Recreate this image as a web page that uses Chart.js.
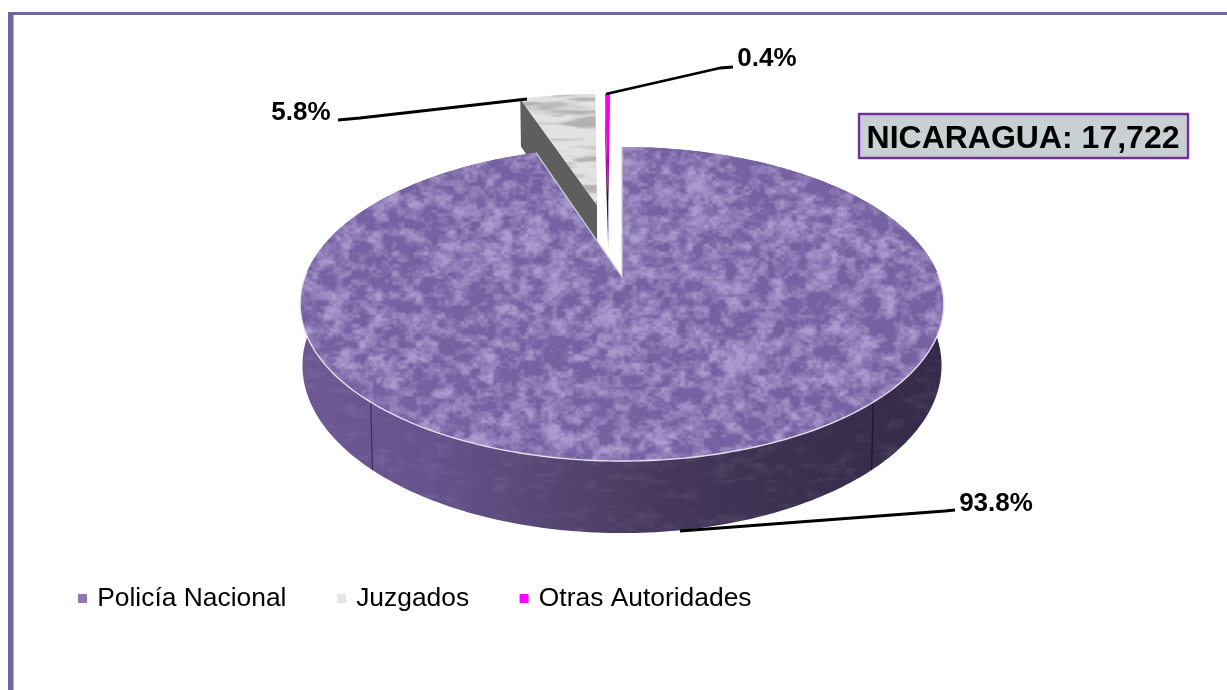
<!DOCTYPE html>
<html lang="es">
<head>
<meta charset="utf-8">
<title>Nicaragua</title>
<script src="https://cdn.jsdelivr.net/npm/chart.js@4/dist/chart.umd.js"></script>
<style>
html,body{margin:0;padding:0;background:#fff;overflow:hidden}
#wrap{position:absolute;left:0;top:0;width:1227px;height:690px}
canvas{display:block}
</style>
</head>
<body>
<div id="wrap"><canvas id="c" width="1227" height="690"></canvas></div>
<script>
// ---- data ----
const categories = ['Policía Nacional', 'Juzgados', 'Otras Autoridades'];
const percentages = [93.8, 5.8, 0.4];
const legendColors = ['#8f78b0', '#e4e5ea', '#ff00ff'];
const totalLabel = 'NICARAGUA: 17,722';

// ---- view of the 3D pie, as ratios of the radius Chart.js computes ----
const REF_R = 254.7;
const VIEW = { rx: 317 / REF_R, ry: 152.4 / REF_R, persp: 0.172, depth: 59.6 / REF_R, bottomShrink: 0.993 };
// slice displacement on the pie's plane (unit = radius)
const EXPLODE = [[0, 0], [-0.086, -0.514], [-0.047, -0.513]];

// label layout: text centre, then leader polyline
const LABELS = [
  { x: 996, y: 504, leader: [[680, 531], [945, 511], [955, 510]] },
  { x: 301, y: 113, leader: [[338, 120], [360, 118], [527, 99]] },
  { x: 767, y: 59, leader: [[606, 94], [720, 68], [733, 67]] }
];
const FONT = '"Liberation Sans", Arial, sans-serif';

// ---- textures (appearance only) ----
function seeded(seed) {
  let s = seed >>> 0;
  return () => { s = (s + 0x6D2B79F5) >>> 0; let t = s; t = Math.imul(t ^ (t >>> 15), t | 1); t ^= t + Math.imul(t ^ (t >>> 7), t | 61); return ((t ^ (t >>> 14)) >>> 0) / 4294967296; };
}
function noiseLayer(w, h, cx, cy, rnd) {
  const gw = Math.ceil(w / cx) + 2, gh = Math.ceil(h / cy) + 2, g = new Float32Array(gw * gh);
  for (let i = 0; i < g.length; i++) g[i] = rnd();
  const out = new Float32Array(w * h), sm = t => t * t * (3 - 2 * t);
  for (let y = 0; y < h; y++) {
    const fy = y / cy, iy = Math.floor(fy), ty = sm(fy - iy);
    for (let x = 0; x < w; x++) {
      const fx = x / cx, ix = Math.floor(fx), tx = sm(fx - ix);
      const a = g[iy * gw + ix], b = g[iy * gw + ix + 1], c = g[(iy + 1) * gw + ix], d = g[(iy + 1) * gw + ix + 1];
      out[y * w + x] = a + (b - a) * tx + (c - a) * ty + (a - b - c + d) * tx * ty;
    }
  }
  return out;
}
function fbm(w, h, layers, seed) {
  const rnd = seeded(seed), out = new Float32Array(w * h);
  let total = 0;
  for (const [cx, cy, amp] of layers) {
    const l = noiseLayer(w, h, cx, cy, rnd);
    for (let i = 0; i < out.length; i++) out[i] += l[i] * amp;
    total += amp;
  }
  for (let i = 0; i < out.length; i++) out[i] /= total;
  return out;
}
function texture(w, h, n, paint) {
  const c = document.createElement('canvas'); c.width = w; c.height = h;
  const x = c.getContext('2d'), im = x.createImageData(w, h);
  for (let i = 0; i < n.length; i++) {
    const rgba = paint(n[i]);
    im.data[i * 4] = rgba[0]; im.data[i * 4 + 1] = rgba[1]; im.data[i * 4 + 2] = rgba[2]; im.data[i * 4 + 3] = rgba[3];
  }
  x.putImageData(im, 0, 0);
  return c;
}
const clamp01 = t => Math.max(0, Math.min(1, t));
const ss = (a, b, v) => { const t = clamp01((v - a) / (b - a)); return t * t * (3 - 2 * t); };
const topTex = texture(700, 400, fbm(700, 400, [[34, 26, .35], [16, 12, .7], [8, 7, .85], [4, 3, .55], [2, 2, .25]], 11), n => {
  const t = clamp01((n - .38) / .34);
  return [118 + 52 * t, 98 + 56 * t, 163 + 42 * t, 255];
});
const grayTex = texture(200, 200, fbm(200, 200, [[70, 9, .7], [35, 4, .6], [12, 2, .3]], 23), n => {
  const t = ss(.3, .6, n), v = 178 + 48 * t;
  return [v, v, v + 2, 255];
});
const sideTex = texture(700, 120, fbm(700, 120, [[24, 8, .6], [10, 5, .6], [3, 2, .3]], 37), n => {
  const t = clamp01((n - .5) * 3);
  return t > 0 ? [255, 255, 255, 18 * t] : [0, 0, 0, -18 * t];
});

// ---- Chart.js arcs are painted on the projected plane ----
// The view slightly narrows the open wedge, as the original 3D renderer does.
function viewAngle(deg) {
  const cut = 360 * percentages[0] / 100, shown = 341.6;
  return deg <= cut ? deg * shown / cut : shown + (deg - cut) * (360 - shown) / (360 - cut);
}
function projector(arc) {
  const R = arc.outerRadius;
  return (u, v, lower) => {
    const w = 1 - VIEW.persp * v;
    return [arc.x + R * VIEW.rx * u / w * (lower ? VIEW.bottomShrink : 1),
            arc.y + R * VIEW.ry * v / w + (lower ? R * VIEW.depth / w : 0)];
  };
}
function rimPoints(arc, idx, from, to, lower) {
  const P = projector(arc), [ex, ey] = EXPLODE[idx], pts = [];
  const n = Math.max(2, Math.ceil(Math.abs(to - from)));
  for (let i = 0; i <= n; i++) {
    const a = (from + (to - from) * i / n) * Math.PI / 180;
    pts.push(P(ex + Math.sin(a), ey - Math.cos(a), lower));
  }
  return pts;
}
function polyPath(ctx, pts) {
  ctx.beginPath();
  pts.forEach((p, i) => i ? ctx.lineTo(p[0], p[1]) : ctx.moveTo(p[0], p[1]));
  ctx.closePath();
}
function sliceRange(arc) {
  const toDeg = r => (r + Math.PI / 2) * 180 / Math.PI;
  return [viewAngle(toDeg(arc.startAngle)), viewAngle(toDeg(arc.endAngle))];
}
function paintMain(ctx, arc) {
  const [a0, a1] = sliceRange(arc), P = projector(arc), R = arc.outerRadius;
  // outer wall
  const wallTop = rimPoints(arc, 0, 88, 272, false), wallBottom = rimPoints(arc, 0, 272, 88, true);
  const wall = wallTop.concat(wallBottom);
  const g = ctx.createLinearGradient(arc.x - R * VIEW.rx, 0, arc.x + R * VIEW.rx, 0);
  g.addColorStop(0, '#6d5893'); g.addColorStop(.2, '#66528c'); g.addColorStop(.37, '#574775');
  g.addColorStop(.56, '#45385c'); g.addColorStop(.77, '#3b3050'); g.addColorStop(1, '#352a49');
  polyPath(ctx, wall); ctx.fillStyle = g; ctx.fill();
  ctx.save(); ctx.clip();
  ctx.fillStyle = ctx.createPattern(sideTex, 'repeat');
  ctx.fillRect(arc.x - 400, arc.y, 800, 300);
  ctx.restore();
  // seams on the wall
  [136, 224].forEach((deg, i) => {
    const a = deg * Math.PI / 180, t = P(Math.sin(a), -Math.cos(a), false), b = P(Math.sin(a), -Math.cos(a), true);
    ctx.strokeStyle = i === 0 ? '#1d1530' : '#3a2c5c'; ctx.lineWidth = 1.2;
    ctx.beginPath(); ctx.moveTo(t[0], t[1]); ctx.lineTo(b[0], b[1]); ctx.stroke();
  });
  // top face
  const top = [P(0, 0, false)].concat(rimPoints(arc, 0, a0, a1, false));
  ctx.save();
  polyPath(ctx, top); ctx.fillStyle = '#7f69a8'; ctx.fill(); ctx.clip();
  ctx.translate(arc.x - 340, arc.y - 150);
  ctx.fillStyle = ctx.createPattern(topTex, 'repeat');
  ctx.fillRect(-10, -10, 720, 420);
  ctx.restore();
  // pale rim along the front
  const rim = rimPoints(arc, 0, 88, 272, false);
  ctx.beginPath(); rim.forEach((p, i) => i ? ctx.lineTo(p[0], p[1]) : ctx.moveTo(p[0], p[1]));
  ctx.strokeStyle = '#e6e0ee'; ctx.lineWidth = 1.4; ctx.stroke();
  // pale cut faces at the wedge
  const ap = P(0, 0, false), left = top[top.length - 1], right = top[1];
  ctx.strokeStyle = '#cfcbd6'; ctx.lineWidth = 1.3;
  ctx.beginPath(); ctx.moveTo(left[0], left[1]); ctx.lineTo(ap[0], ap[1]); ctx.lineTo(right[0], right[1]); ctx.stroke();
}
function paintGray(ctx, arc) {
  const [a0, a1] = sliceRange(arc), P = projector(arc), [ex, ey] = EXPLODE[1];
  const ap = P(ex, ey, false), apLow = P(ex, ey, true);
  const tip = rimPoints(arc, 1, a0, a0 + .01, false)[0], tipLow = rimPoints(arc, 1, a0, a0 + .01, true)[0];
  polyPath(ctx, [tip, ap, apLow, tipLow]); ctx.fillStyle = '#5e5e5e'; ctx.fill();
  const top = [ap].concat(rimPoints(arc, 1, a0, a1, false));
  ctx.save();
  polyPath(ctx, top); ctx.fillStyle = '#dcdcdf'; ctx.fill(); ctx.clip();
  ctx.translate(tip[0], tip[1] - 20);
  ctx.fillStyle = ctx.createPattern(grayTex, 'repeat');
  ctx.fillRect(-5, -5, 210, 210);
  ctx.restore();
}
function paintPink(ctx, arc) {
  const [a0, a1] = sliceRange(arc), P = projector(arc), [ex, ey] = EXPLODE[2];
  const ap = P(ex, ey, false), apLow = P(ex, ey, true);
  const rim = rimPoints(arc, 2, a0, a1, false), tipLow = rimPoints(arc, 2, a0, a0 + .01, true)[0];
  const g = ctx.createLinearGradient(0, rim[0][1], 0, apLow[1]);
  g.addColorStop(0, '#ff00ff'); g.addColorStop(.3, '#e400e4'); g.addColorStop(.48, '#8a108a');
  g.addColorStop(.62, '#2c0a36'); g.addColorStop(.8, '#5a2a6a'); g.addColorStop(.95, '#ffffff');
  polyPath(ctx, [ap].concat(rim)); ctx.fillStyle = g; ctx.fill();
  polyPath(ctx, [rim[0], ap, apLow, tipLow]); ctx.fillStyle = g; ctx.fill();
}
const painters = [paintMain, paintGray, paintPink];
const paintOrder = [1, 2, 0];
const ArcProto = Chart.ArcElement.prototype;
let pending = [];
ArcProto.draw = function (ctx) {
  pending.push(this);
  if (pending.length < categories.length) return;
  const arcs = pending; pending = [];
  ctx.save();
  paintOrder.forEach(i => painters[i](ctx, arcs[i]));
  ctx.restore();
};

// ---- frame, leaders, value labels, total box ----
const decor = {
  id: 'decor',
  beforeDraw(chart) {
    const c = chart.ctx;
    c.save();
    c.fillStyle = '#6b67a0';
    c.fillRect(8, 12, 1219, 3);
    c.fillRect(8, 12, 5.5, 678);
    c.restore();
  },
  afterDraw(chart) {
    const c = chart.ctx;
    c.save();
    c.lineJoin = 'round';
    c.textAlign = 'center'; c.textBaseline = 'middle';
    LABELS.forEach((l, i) => {
      c.strokeStyle = '#000'; c.lineWidth = 2.8;
      c.beginPath();
      l.leader.forEach((p, j) => j ? c.lineTo(p[0], p[1]) : c.moveTo(p[0], p[1]));
      c.stroke();
      c.fillStyle = '#000';
      c.font = 'bold 26px ' + FONT;
      c.fillText(percentages[i].toFixed(1) + '%', l.x, l.y);
    });
    c.fillStyle = '#c9d0d3'; c.fillRect(858, 113, 331, 46);
    c.strokeStyle = '#7030a0'; c.lineWidth = 2.4; c.strokeRect(859, 114, 329, 44);
    c.fillStyle = '#000'; c.font = 'bold 32px ' + FONT;
    c.fillText(totalLabel, 1023, 139);
    c.restore();
  }
};

new Chart(document.getElementById('c'), {
  type: 'pie',
  data: {
    labels: categories,
    datasets: [{ data: percentages, backgroundColor: legendColors, borderWidth: 0, hoverOffset: 0 }]
  },
  plugins: [decor],
  options: {
    responsive: false,
    animation: false,
    events: [],
    rotation: 0,
    layout: { padding: { left: 27.5, right: 10.5, top: 22.3, bottom: 68.4 } },
    plugins: {
      tooltip: { enabled: false },
      title: { display: false },
      legend: {
        display: true, position: 'bottom', align: 'start',
        labels: {
          usePointStyle: true, pointStyle: 'rect', boxWidth: 3, boxHeight: 9,
          padding: 53.5, color: '#000', font: { family: FONT, size: 26.4 }
        }
      }
    }
  }
});
</script>
</body>
</html>
